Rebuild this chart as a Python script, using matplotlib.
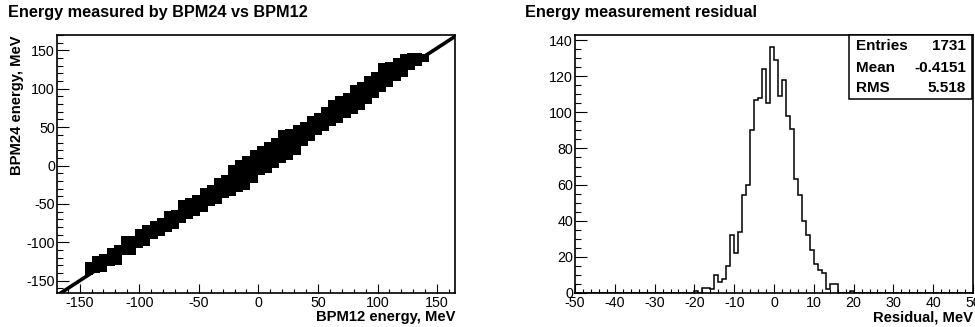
import numpy as np
import matplotlib.pyplot as plt
from matplotlib.ticker import MultipleLocator

plt.rcParams['font.family'] = ['Liberation Sans', 'DejaVu Sans']
plt.rcParams['axes.unicode_minus'] = False

# BPM12 energy (MeV) columns along the band, and the BPM24 readings seen in each column
bpm12_cols = [-142, -136, -130, -124, -118, -112, -106, -100, -94, -88, -82, -76,
              -70, -64, -58, -52, -46, -40, -34, -28, -22, -16, -10, -4,
              2, 8, 14, 20, 26, 32, 38, 44, 50, 56, 62, 68,
              74, 80, 86, 92, 98, 104, 110, 116, 122, 128, 134, 140]
bpm24_cols = [[-137, -131], [-135, -129, -123], [-134, -127, -121], [-126, -119, -112],
              [-124, -116, -109], [-111, -104, -97], [-111, -104, -97], [-102, -95, -88],
              [-99, -91, -83], [-91, -84, -78], [-87, -80, -73], [-81, -73, -65],
              [-77, -70, -63], [-69, -63, -56, -50], [-65, -59, -53, -47], [-61, -55, -49, -43],
              [-55, -48, -41, -34], [-48, -42, -36, -30], [-45, -37, -29, -22], [-37, -31, -24, -18],
              [-35, -28, -20, -12, -5], [-29, -21, -13, -5, 2], [-26, -18, -9, -1, 7], [-17, -9, -1, 7, 15],
              [-7, 0, 7, 14, 20], [-5, 2, 10, 18, 25], [2, 9, 17, 24, 31], [9, 17, 25, 33, 41],
              [13, 20, 28, 36, 43], [19, 26, 33, 40, 47], [31, 38, 44, 51], [37, 44, 52, 59],
              [45, 51, 57, 63], [50, 57, 64, 71], [57, 65, 73, 80], [61, 69, 77, 85],
              [67, 74, 82, 89], [72, 79, 86, 93, 100], [77, 86, 94, 103], [85, 92, 99, 105, 112],
              [93, 101, 109, 117], [101, 108, 115, 121, 128], [107, 115, 122, 130], [115, 122, 128, 135],
              [121, 127, 134, 140], [129, 135, 141], [135, 141], [140]]

fit_slope = 1.01
fit_offset = 1.5

# residual histogram, 1 MeV bins from -50 to 50; counts given for bins -20 .. 19
resid_first_bin = -20
resid_counts = [1, 0, 3, 3, 2, 10, 6, 8, 15, 32,
                22, 34, 54, 60, 90, 107, 108, 124, 105, 136,
                129, 109, 118, 98, 91, 63, 54, 40, 32, 24,
                16, 13, 11, 2, 5, 5, 0, 0, 0, 1]

stats_names = ['Entries', 'Mean', 'RMS']
stats_values = ['1731', '-0.4151', '5.518']


def style_axes(ax, xmaj, xmin, ymaj, ymin):
    ax.xaxis.set_major_locator(MultipleLocator(xmaj))
    ax.xaxis.set_minor_locator(MultipleLocator(xmin))
    ax.yaxis.set_major_locator(MultipleLocator(ymaj))
    ax.yaxis.set_minor_locator(MultipleLocator(ymin))
    ax.tick_params(which='both', direction='in', top=False, right=False,
                   width=0.8, labelsize=10.3)
    ax.tick_params(axis='x', which='major', length=6.5, pad=2)
    ax.tick_params(axis='x', which='minor', length=3.2)
    ax.tick_params(axis='y', which='major', length=8.6, pad=1.5)
    ax.tick_params(axis='y', which='minor', length=4.3)
    for s in ax.spines.values():
        s.set_linewidth(1.2)


fig = plt.figure(figsize=(9.75, 3.27), dpi=100)

# left: scatter of BPM24 vs BPM12
ax1 = fig.add_axes([57 / 975, 34 / 327, 398 / 975, 258 / 327])
xs = [x for x, col in zip(bpm12_cols, bpm24_cols) for _ in col]
ys = [y for col in bpm24_cols for y in col]
ax1.plot(xs, ys, 's', color='k', ms=6, mew=0)
ax1.set_xlim(-169, 165)
ax1.set_ylim(-166, 170)
line_x = np.array(ax1.get_xlim())
ax1.plot(line_x, fit_slope * line_x + fit_offset, color='k', lw=2.6, solid_capstyle='butt')
style_axes(ax1, 50, 10, 50, 10)

fig.text(8 / 975, 1 - 12 / 327, 'Energy measured by BPM24 vs BPM12',
         fontsize=11.7, fontweight='bold', ha='left', va='center')
fig.text(455 / 975, 1 - 317 / 327, 'BPM12 energy, MeV',
         fontsize=10.6, fontweight='bold', ha='right', va='center')
fig.text(17 / 975, 1 - 35 / 327, 'BPM24 energy, MeV', rotation=90,
         fontsize=10.6, fontweight='bold', ha='center', va='top')

# right: residual histogram
ax2 = fig.add_axes([575 / 975, 34 / 327, 398 / 975, 258 / 327])
edges = np.arange(-50, 51)
counts = np.zeros(100)
start = resid_first_bin + 50
counts[start:start + len(resid_counts)] = resid_counts
ax2.stairs(counts, edges, color='k', lw=1.1)
ax2.set_xlim(-50, 50)
ax2.set_ylim(0, max(resid_counts) * 1.05)
style_axes(ax2, 10, 2, 20, 5)

fig.text(525 / 975, 1 - 12 / 327, 'Energy measurement residual',
         fontsize=11.7, fontweight='bold', ha='left', va='center')
fig.text(973 / 975, 1 - 317 / 327, 'Residual, MeV',
         fontsize=10.6, fontweight='bold', ha='right', va='center')

# stats box
bx0, bx1 = 849 / 975, 972 / 975
by0, by1 = 1 - 99 / 327, 1 - 35 / 327
fig.patches.append(plt.Rectangle((bx0, by0), bx1 - bx0, by1 - by0,
                                 transform=fig.transFigure, fill=True,
                                 facecolor='white', edgecolor='k', lw=1.1, zorder=5))
row_y = [45.7, 67.7, 88.3]
for name, val, ry in zip(stats_names, stats_values, row_y):
    fig.text(856 / 975, 1 - ry / 327, name, fontsize=11, fontweight='bold',
             ha='left', va='center', zorder=6)
    fig.text(966 / 975, 1 - ry / 327, val, fontsize=11, fontweight='bold',
             ha='right', va='center', zorder=6)

fig.savefig('out.png', dpi=100)
